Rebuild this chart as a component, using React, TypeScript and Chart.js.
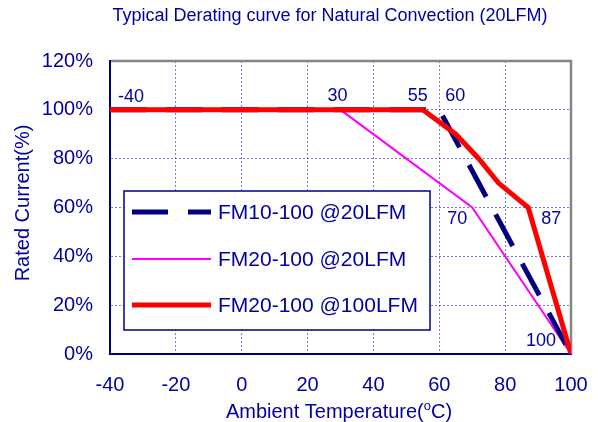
import { useEffect, useRef } from "react";
import { Chart, registerables } from "chart.js";

Chart.register(...registerables);

// ---------- data ----------
const chartTitle = "Typical Derating curve for Natural Convection (20LFM)";
const yAxisTitle = "Rated Current(%)";
const xAxisTitleMain = "Ambient Temperature(";
const xAxisTitleSup = "o";
const xAxisTitleEnd = "C)";

const seriesNames = ["FM10-100 @20LFM", "FM20-100 @20LFM", "FM20-100 @100LFM"];

const fm10At20Temp = [-40, 60, 100];
const fm10At20Current = [100, 100, 0];

const fm20At20Temp = [-40, 30, 70, 100];
const fm20At20Current = [100, 100, 60, 0];

const fm20At100Temp = [-40, 55, 65, 72, 78, 87, 100];
const fm20At100Current = [100, 100, 90, 80, 70, 60, 0];

const xMin = -40;
const xMax = 100;
const xStep = 20;
const yMin = 0;
const yMax = 120;
const yStep = 20;

const annotationText = ["-40", "30", "55", "60", "70", "87", "100"];
const annotationTemp = [-40, 30, 55, 60, 70, 87, 100];
const annotationCurrent = [100, 100, 100, 100, 60, 60, 0];

// ---------- layout / style ----------
const annotationOffsets: [number, number][] = [
  [21, -13],
  [-3, -14],
  [-5, -14],
  [16, -14],
  [-15, 12],
  [23, 12],
  [-30, -13],
];

const FONT = "'Liberation Sans', Arial, Helvetica, sans-serif";
const TEXT = "#0000a0";
const NAVY = "#000080";
const MAGENTA = "#ff00ff";
const RED = "#ff0000";
const GRID = "rgba(60,60,220,0.7)";

const toPoints = (xs: number[], ys: number[]) => xs.map((x, i) => ({ x, y: ys[i] }));

const decorPlugin = {
  id: "decor",
  beforeDatasetsDraw(chart: any) {
    const { ctx, chartArea: a } = chart;
    ctx.save();
    ctx.strokeStyle = "#858585";
    ctx.lineWidth = 2.5;
    ctx.beginPath();
    ctx.moveTo(a.left + 1, a.top);
    ctx.lineTo(a.right, a.top);
    ctx.lineTo(a.right, a.bottom);
    ctx.stroke();
    ctx.restore();
  },
  afterDraw(chart: any) {
    const { ctx, chartArea: a, scales } = chart;
    const xs = scales.x;
    const ys = scales.y;
    ctx.save();
    ctx.fillStyle = TEXT;

    // title
    ctx.font = `18px ${FONT}`;
    ctx.textAlign = "center";
    ctx.textBaseline = "middle";
    ctx.fillText(chartTitle, 330, 16);

    // y axis title
    ctx.save();
    ctx.font = `20px ${FONT}`;
    ctx.translate(23, 203);
    ctx.rotate(-Math.PI / 2);
    ctx.textAlign = "center";
    ctx.textBaseline = "middle";
    ctx.fillText(yAxisTitle, 0, 0);
    ctx.restore();

    // x axis title with superscript
    ctx.textAlign = "left";
    ctx.textBaseline = "alphabetic";
    ctx.font = `20px ${FONT}`;
    const w1 = ctx.measureText(xAxisTitleMain).width;
    const w3 = ctx.measureText(xAxisTitleEnd).width;
    ctx.font = `13px ${FONT}`;
    const w2 = ctx.measureText(xAxisTitleSup).width;
    const total = w1 + w2 + w3;
    let sx = 339 - total / 2;
    const base = 418;
    ctx.font = `20px ${FONT}`;
    ctx.fillText(xAxisTitleMain, sx, base);
    sx += w1;
    ctx.font = `13px ${FONT}`;
    ctx.fillText(xAxisTitleSup, sx, base - 8);
    sx += w2;
    ctx.font = `20px ${FONT}`;
    ctx.fillText(xAxisTitleEnd, sx, base);

    // annotations
    ctx.font = `18px ${FONT}`;
    ctx.textAlign = "center";
    ctx.textBaseline = "middle";
    annotationText.forEach((t, i) => {
      const px = xs.getPixelForValue(annotationTemp[i]) + annotationOffsets[i][0];
      const py = ys.getPixelForValue(annotationCurrent[i]) + annotationOffsets[i][1];
      ctx.fillText(t, px, py);
    });

    // legend
    const bx = a.left + 14;
    const by = a.top + 130;
    const bw = 306;
    const bh = 139;
    ctx.fillStyle = "#ffffff";
    ctx.fillRect(bx, by, bw, bh);
    ctx.strokeStyle = NAVY;
    ctx.lineWidth = 1.5;
    ctx.strokeRect(bx, by, bw, bh);
    const rows = [21, 68, 114];
    chart.data.datasets.forEach((ds: any, i: number) => {
      const y = by + rows[i];
      ctx.save();
      ctx.strokeStyle = ds.borderColor;
      ctx.lineWidth = ds.borderWidth;
      ctx.setLineDash(ds.borderDash || []);
      ctx.beginPath();
      ctx.moveTo(bx + 8, y);
      ctx.lineTo(bx + 87, y);
      ctx.stroke();
      ctx.restore();
      ctx.fillStyle = TEXT;
      ctx.font = `21px ${FONT}`;
      ctx.textAlign = "left";
      ctx.textBaseline = "middle";
      ctx.fillText(ds.label, bx + 94, y + 1);
    });
    ctx.restore();
  },
};

export default function App() {
  const ref = useRef<HTMLCanvasElement | null>(null);

  useEffect(() => {
    if (!ref.current) return;
    const chart = new Chart(ref.current, {
      type: "line",
      data: {
        datasets: [
          {
            label: seriesNames[0],
            data: toPoints(fm10At20Temp, fm10At20Current),
            borderColor: NAVY,
            borderWidth: 5,
            borderDash: [36, 20],
            pointRadius: 0,
            tension: 0,
            order: 1,
          },
          {
            label: seriesNames[1],
            data: toPoints(fm20At20Temp, fm20At20Current),
            borderColor: MAGENTA,
            borderWidth: 2,
            pointRadius: 0,
            tension: 0,
            order: 2,
          },
          {
            label: seriesNames[2],
            data: toPoints(fm20At100Temp, fm20At100Current),
            borderColor: RED,
            borderWidth: 5,
            borderJoinStyle: "miter",
            pointRadius: 0,
            tension: 0,
            order: 0,
          },
        ],
      },
      options: {
        animation: false,
        responsive: false,
        devicePixelRatio: 1,
        layout: { padding: { top: 61, right: 27, bottom: 0, left: 0 } },
        plugins: {
          legend: { display: false },
          title: { display: false },
          tooltip: { enabled: false },
        },
        scales: {
          x: {
            type: "linear",
            min: xMin,
            max: xMax,
            afterFit: (s: any) => {
              s.height = 68;
              s.paddingLeft = 0;
              s.paddingRight = 0;
            },
            ticks: {
              stepSize: xStep,
              color: TEXT,
              font: { family: FONT, size: 20 },
              padding: 19,
              maxRotation: 0,
            },
            grid: { color: GRID, lineWidth: 1, drawTicks: false },
            border: { color: NAVY, width: 2, dash: [2, 2] },
          },
          y: {
            min: yMin,
            max: yMax,
            afterFit: (s: any) => {
              s.width = 110;
              s.paddingTop = 0;
              s.paddingBottom = 0;
            },
            ticks: {
              stepSize: yStep,
              color: TEXT,
              font: { family: FONT, size: 20 },
              padding: 17,
              callback: (v: any) => `${v}%`,
            },
            grid: { color: GRID, lineWidth: 1, drawTicks: false },
            border: { color: NAVY, width: 2, dash: [2, 2] },
          },
        },
      },
      plugins: [decorPlugin],
    } as any);
    return () => chart.destroy();
  }, []);

  return (
    <div style={{ position: "absolute", left: 0, top: 0, width: 598, height: 422 }}>
      <canvas ref={ref} width={598} height={422} style={{ width: 598, height: 422 }} />
    </div>
  );
}
